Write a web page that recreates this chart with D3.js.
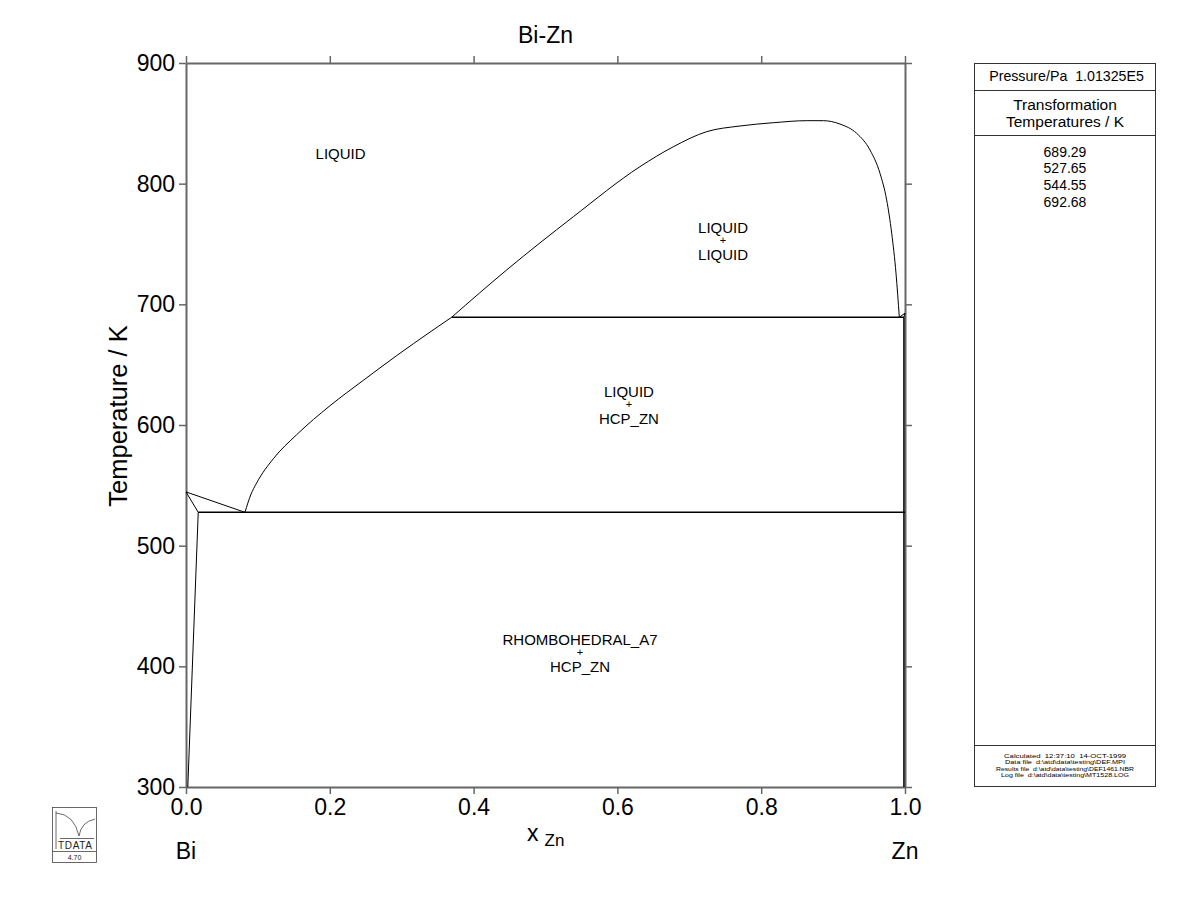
<!DOCTYPE html>
<html><head><meta charset="utf-8">
<script src="https://cdn.jsdelivr.net/npm/d3@7"></script>
<style>body{margin:0;background:#fff}svg{font-family:"Liberation Sans",Arial,sans-serif}</style>
</head><body>
<svg id="c" width="1200" height="923"></svg>
<script>
// ---- data ----
const xTicks = [0.0, 0.2, 0.4, 0.6, 0.8, 1.0];
const yTicks = [300, 400, 500, 600, 700, 800, 900];
const transformationTemps = ["689.29", "527.65", "544.55", "692.68"];
const biLiquidus = [[0, 544.55], [0.082, 527.65]];
const biSolidus = [[0, 544.55], [0.017, 527.65]];
const biSolvus = [[0.017, 527.65], [0.0025, 300]];
const eutectic = [[0.017, 527.65], [1.0, 527.65]];
const znLiquidus = [[0.082, 527.65], [0.090, 542], [0.0983, 552], [0.1214, 572], [0.154, 592], [0.2003, 616],
  [0.2466, 637], [0.293, 657.5], [0.3394, 677], [0.3695, 689.29]];
const monotectic = [[0.3695, 689.29], [0.9985, 689.29]];
const miscibilityGap = [[0.3695, 689.29], [0.446, 728.5], [0.5387, 772.6], [0.6314, 814.1], [0.6778, 830.6],
  [0.7242, 843.1], [0.7705, 847.8], [0.8168, 850.5], [0.8633, 852.2], [0.8864, 852.2], [0.9096, 849.4],
  [0.9328, 841.7], [0.9513, 827.9], [0.9652, 808.6], [0.9745, 786.5], [0.9815, 758.9], [0.9875, 725.7],
  [0.9921, 689.29]];
const znMelt = [[0.9921, 689.29], [1.0, 692.68]];
const znSolidus = [[1.0, 692.68], [0.9985, 689.29]];
const znSolvus = [[0.9985, 689.29], [0.9985, 300]];
const regionLabels = [
  {lines: ["LIQUID"], x: 0.215, T: 824.8},
  {lines: ["LIQUID", "+", "LIQUID"], x: 0.747, T: 753.1},
  {lines: ["LIQUID", "+", "HCP_ZN"], x: 0.616, T: 617.2},
  {lines: ["RHOMBOHEDRAL_A7", "+", "HCP_ZN"], x: 0.548, T: 411.7}
];
const footer = ["Calculated  12:37:10  14-OCT-1999", "Data file  d:\\atd\\data\\testing\\DEF.MPI",
  "Results file  d:\\atd\\data\\testing\\DEF1461.NBR", "Log file  d:\\atd\\data\\testing\\MT1528.LOG"];

// ---- layout ----
const svg = d3.select("#c");
const L = 186, R = 905, T = 63, B = 787;
const x = d3.scaleLinear().domain([0, 1]).range([L, R]);
const y = d3.scaleLinear().domain([300, 900]).range([B, T]);
const axCol = "#666";

function styleAxis(g) {
  g.select(".domain").attr("stroke", axCol).attr("stroke-width", 2);
  g.selectAll(".tick line").attr("stroke", axCol).attr("stroke-width", 1.5);
  g.selectAll(".tick text").attr("font-size", 23).attr("fill", "#000")
    .attr("font-family", "'Liberation Sans',Arial,sans-serif");
}
svg.append("g").attr("transform", `translate(0,${B})`)
  .call(d3.axisBottom(x).tickValues(xTicks).tickFormat(d3.format(".1f")).tickSize(7).tickSizeOuter(0).tickPadding(5))
  .call(styleAxis);
svg.append("g").attr("transform", `translate(0,${T})`)
  .call(d3.axisTop(x).tickValues(xTicks).tickFormat("").tickSize(7).tickSizeOuter(0))
  .call(styleAxis);
svg.append("g").attr("transform", `translate(${L},0)`)
  .call(d3.axisLeft(y).tickValues(yTicks).tickFormat(d3.format("d")).tickSize(7).tickSizeOuter(0).tickPadding(4))
  .call(styleAxis);
svg.append("g").attr("transform", `translate(${R},0)`)
  .call(d3.axisRight(y).tickValues(yTicks).tickFormat("").tickSize(7).tickSizeOuter(0))
  .call(styleAxis);

// ---- phase boundaries ----
const lineStraight = d3.line().x(d => x(d[0])).y(d => y(d[1]));
const lineSmooth = d3.line().x(d => x(d[0])).y(d => y(d[1])).curve(d3.curveMonotoneX);
const g = svg.append("g").attr("fill", "none").attr("stroke", "#000");
[biLiquidus, biSolidus, biSolvus, znMelt, znSolidus].forEach(d =>
  g.append("path").attr("d", lineStraight(d)).attr("stroke-width", 1));
[eutectic, monotectic, znSolvus].forEach(d =>
  g.append("path").attr("d", lineStraight(d)).attr("stroke-width", 1.5));
[znLiquidus, miscibilityGap].forEach(d =>
  g.append("path").attr("d", lineSmooth(d)).attr("stroke-width", 1));

// ---- region labels ----
regionLabels.forEach(r => {
  const cx = x(r.x), cy = y(r.T);
  const t = svg.append("g").attr("text-anchor", "middle").attr("font-size", 15);
  if (r.lines.length === 1) {
    t.append("text").attr("x", cx).attr("y", cy + 5).text(r.lines[0]);
  } else {
    t.append("text").attr("x", cx).attr("y", cy - 7.5).text(r.lines[0]);
    t.append("text").attr("x", cx).attr("y", cy + 4).attr("font-size", 11).text(r.lines[1]);
    t.append("text").attr("x", cx).attr("y", cy + 19.5).text(r.lines[2]);
  }
});

// ---- titles ----
svg.append("text").attr("x", (L + R) / 2).attr("y", 42.5).attr("text-anchor", "middle")
  .attr("font-size", 23).text("Bi-Zn");
svg.append("text").attr("transform", `translate(127,416) rotate(-90)`)
  .attr("text-anchor", "middle").attr("font-size", 25.5).text("Temperature / K");
const xl = svg.append("text").attr("x", 527).attr("y", 841).attr("font-size", 23);
xl.append("tspan").text("x");
xl.append("tspan").attr("dx", 6).attr("dy", 5).attr("font-size", 17).text("Zn");
svg.append("text").attr("x", x(0)).attr("y", 859).attr("text-anchor", "middle").attr("font-size", 23).text("Bi");
svg.append("text").attr("x", x(1)).attr("y", 859).attr("text-anchor", "middle").attr("font-size", 23).text("Zn");

// ---- right info panel ----
const P = svg.append("g");
const pL = 974.5, pR = 1155.5, pT = 63.5, pB = 786.5, pc = (pL + pR) / 2;
P.append("rect").attr("x", pL).attr("y", pT).attr("width", pR - pL).attr("height", pB - pT)
  .attr("fill", "none").attr("stroke", "#333").attr("stroke-width", 1);
[90.5, 135.5, 745.5].forEach(yy => P.append("line").attr("x1", pL).attr("x2", pR)
  .attr("y1", yy).attr("y2", yy).attr("stroke", "#333"));
P.append("text").attr("x", pc + 1.5).attr("y", 81).attr("text-anchor", "middle").attr("font-size", 14.2)
  .attr("xml:space", "preserve").text("Pressure/Pa  1.01325E5");
P.append("text").attr("x", pc).attr("y", 110).attr("text-anchor", "middle").attr("font-size", 15.5).text("Transformation");
P.append("text").attr("x", pc).attr("y", 127).attr("text-anchor", "middle").attr("font-size", 15.5).text("Temperatures / K");
transformationTemps.forEach((v, i) => P.append("text").attr("x", pc).attr("y", 156.7 + i * 16.7)
  .attr("text-anchor", "middle").attr("font-size", 14).text(v));
const footerWidths = [122, 120, 138, 128];
footer.forEach((v, i) => P.append("text").attr("x", pc).attr("y", 758 + i * 6.4)
  .attr("text-anchor", "middle").attr("font-size", 5.6).attr("xml:space", "preserve")
  .attr("textLength", footerWidths[i]).attr("lengthAdjust", "spacingAndGlyphs").text(v));

// ---- logo ----
const lg = svg.append("g").attr("fill", "none").attr("stroke", "#444").attr("stroke-width", 0.8);
lg.append("rect").attr("x", 52.5).attr("y", 807.5).attr("width", 44).attr("height", 55);
lg.append("line").attr("x1", 52.5).attr("x2", 96.5).attr("y1", 851.5).attr("y2", 851.5);
lg.append("line").attr("x1", 56).attr("x2", 56).attr("y1", 811).attr("y2", 849);
lg.append("path").attr("d", "M56,813 Q74,814 79,836 Q81,822 95,819");
lg.append("line").attr("x1", 60).attr("x2", 94).attr("y1", 838.5).attr("y2", 838.5);
svg.append("text").attr("x", 75).attr("y", 848.5).attr("text-anchor", "middle").attr("font-size", 10)
  .attr("fill", "#222").attr("textLength", 34).text("TDATA");
svg.append("text").attr("x", 74.5).attr("y", 859.5).attr("text-anchor", "middle").attr("font-size", 7)
  .attr("fill", "#222").text("4.70");
</script>
</body></html>
